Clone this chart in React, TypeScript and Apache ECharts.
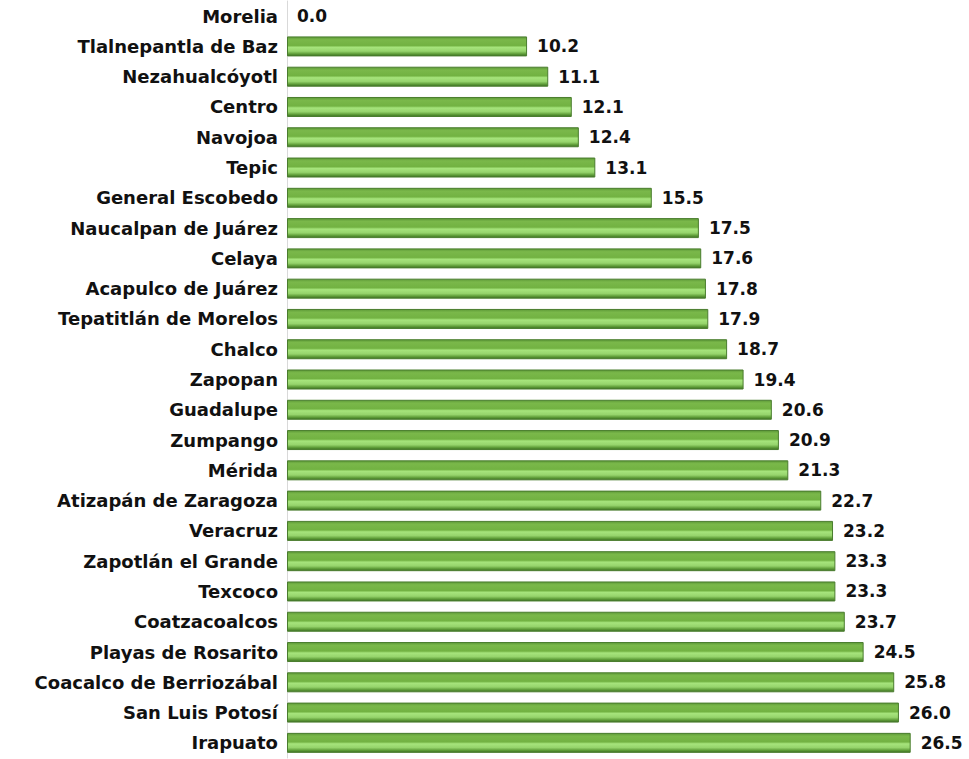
import React, { useEffect, useRef } from "react";
import * as echarts from "echarts";

const categories = [
  "Morelia", "Tlalnepantla de Baz", "Nezahualcóyotl", "Centro", "Navojoa", "Tepic",
  "General Escobedo", "Naucalpan de Juárez", "Celaya", "Acapulco de Juárez",
  "Tepatitlán de Morelos", "Chalco", "Zapopan", "Guadalupe", "Zumpango", "Mérida",
  "Atizapán de Zaragoza", "Veracruz", "Zapotlán el Grande", "Texcoco",
  "Coatzacoalcos", "Playas de Rosarito", "Coacalco de Berriozábal", "San Luis Potosí", "Irapuato",
];
const values = [
  0.0, 10.2, 11.1, 12.1, 12.4, 13.1, 15.5, 17.5, 17.6, 17.8, 17.9, 18.7, 19.4, 20.6,
  20.9, 21.3, 22.7, 23.2, 23.3, 23.3, 23.7, 24.5, 25.8, 26.0, 26.5,
];

export default function App() {
  const ref = useRef<HTMLDivElement>(null);
  useEffect(() => {
    const chart = echarts.init(ref.current!, null, { renderer: "svg" });
    const font = "'DejaVu Sans', sans-serif";
    chart.setOption({
      animation: false,
      backgroundColor: "#ffffff",
      grid: { left: 287, right: 23, top: 1, bottom: 1, containLabel: false },
      xAxis: {
        type: "value",
        min: 0,
        max: 28,
        show: false,
      },
      yAxis: {
        type: "category",
        inverse: true,
        data: categories,
        axisLine: { show: true, lineStyle: { color: "#d9d9d9", width: 1 } },
        axisTick: { show: false },
        axisLabel: {
          color: "#111",
          fontFamily: font,
          fontWeight: "bold",
          fontSize: 18,
          margin: 9,
        },
      },
      series: [
        {
          type: "bar",
          data: values.map((v) =>
            v === 0
              ? { value: v, itemStyle: { borderWidth: 0, color: "rgba(0,0,0,0)" } }
              : v
          ),
          barWidth: 20,
          itemStyle: {
            borderColor: "#4a7d2e",
            borderWidth: 1,
            color: new echarts.graphic.LinearGradient(0, 0, 0, 1, [
              { offset: 0, color: "#5e9a38" },
              { offset: 0.15, color: "#7ab84a" },
              { offset: 0.45, color: "#72b242" },
              { offset: 0.55, color: "#a6e47c" },
              { offset: 0.75, color: "#96d46c" },
              { offset: 0.9, color: "#5c9a36" },
              { offset: 1, color: "#3f7026" },
            ]),
          },
          label: {
            show: true,
            position: "right",
            distance: 10,
            formatter: (p: any) => Number(p.value).toFixed(1),
            color: "#111",
            fontFamily: font,
            fontWeight: "bold",
            fontSize: 17,
          },
        },
      ],
    });
    return () => chart.dispose();
  }, []);
  return (
    <div
      ref={ref}
      style={{ position: "fixed", left: 0, top: 0, width: 969, height: 759 }}
    />
  );
}
